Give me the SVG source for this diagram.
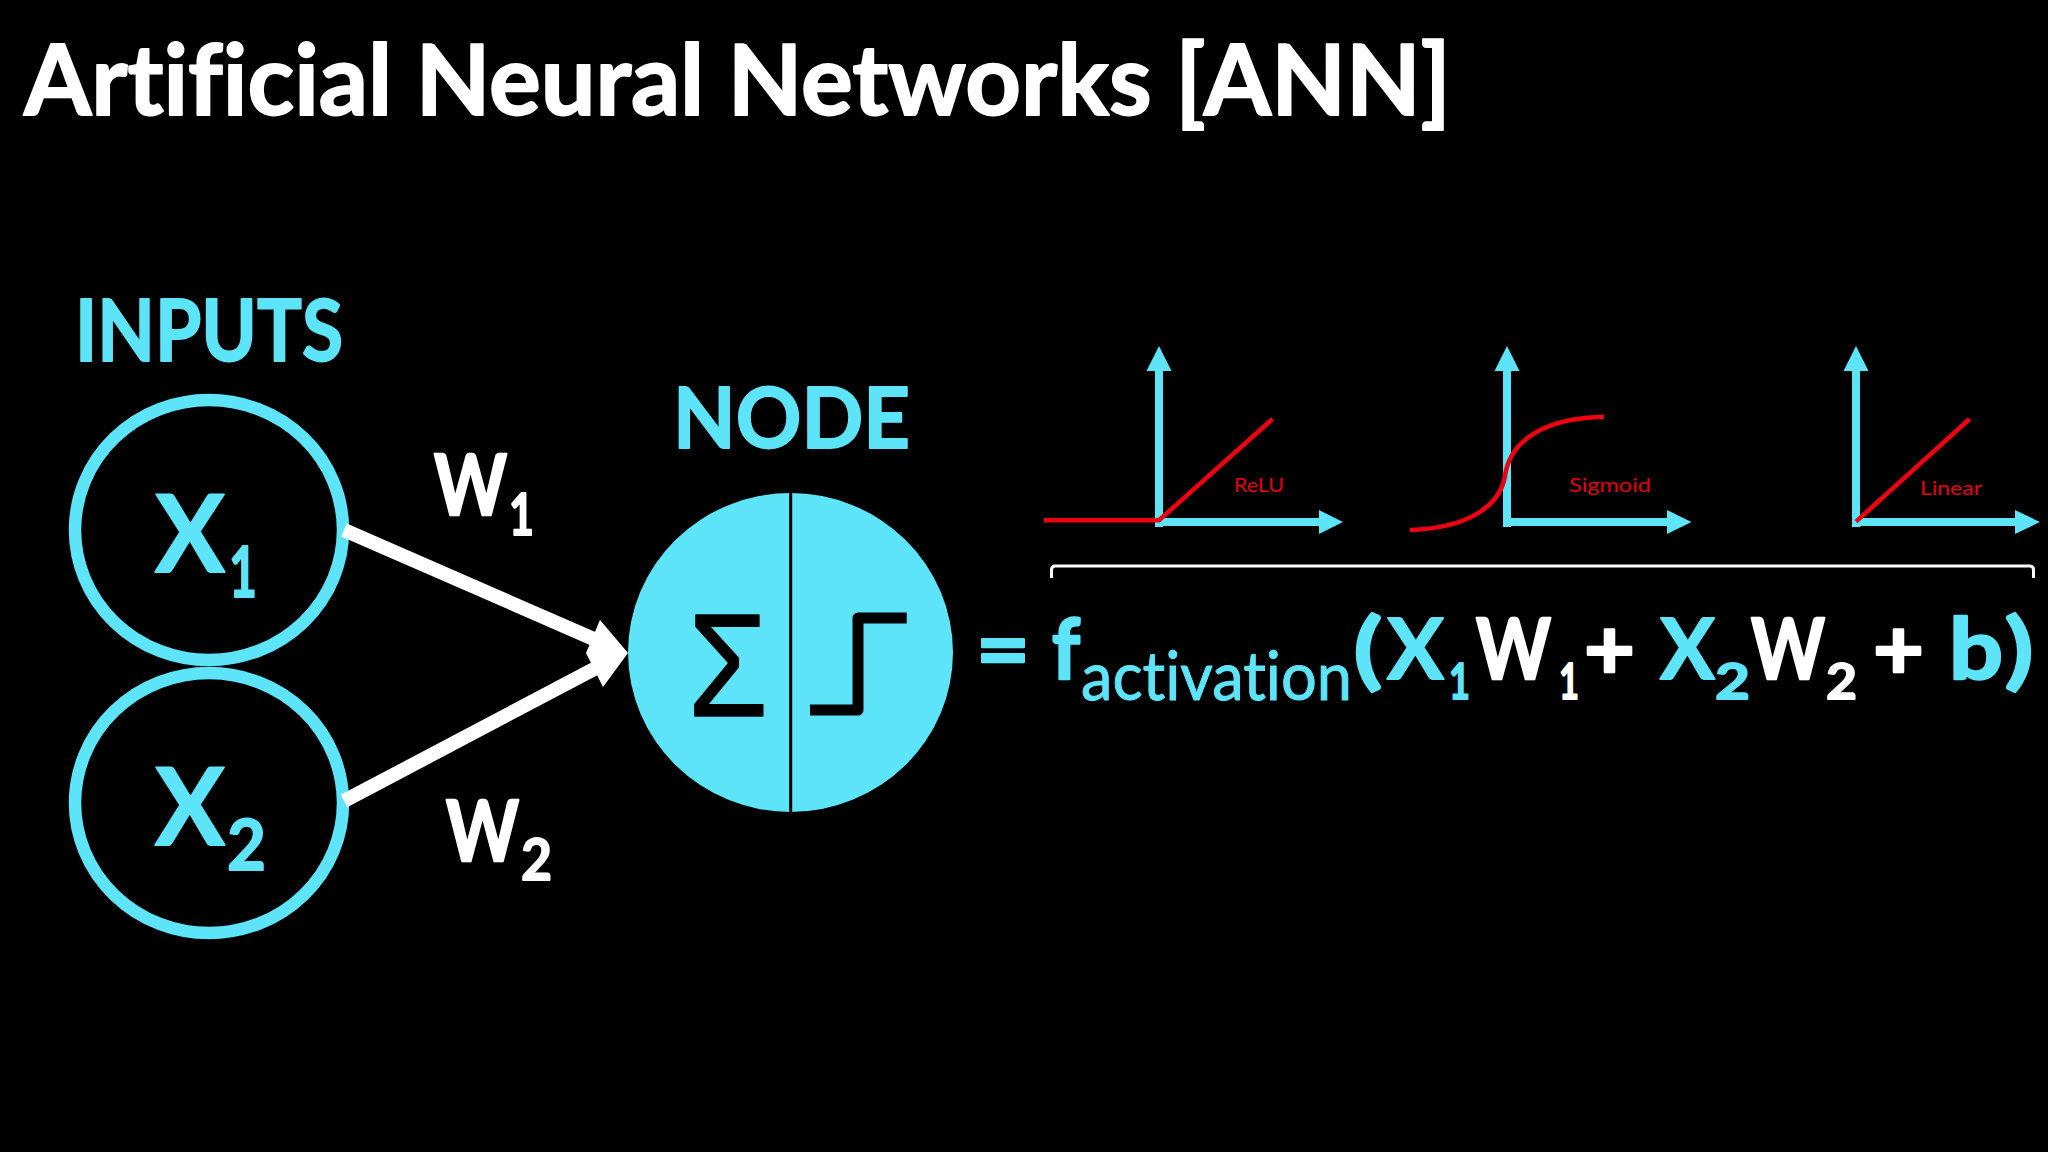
<svg xmlns="http://www.w3.org/2000/svg" width="2048" height="1152" viewBox="0 0 2048 1152">
<style>
text{font-family:"Lato","Liberation Sans",sans-serif;font-weight:700;font-variant-ligatures:none;stroke-linejoin:round}
.c{fill:#5de4f8;stroke:#5de4f8;stroke-width:1.8}.w{fill:#fff;stroke:#fff;stroke-width:1.8}.r{fill:#e3000f;font-weight:400;font-size:20px}
.ring{fill:none;stroke:#5de4f8;stroke-width:12.5}
.ax{stroke:#5de4f8;stroke-width:8;fill:none}
.hd{fill:#5de4f8}
.red{fill:none;stroke:#ee0010;stroke-width:4.500}
.con{stroke:#fff;stroke-width:14;fill:none}
</style>
<rect width="2048" height="1152" fill="#000"/>
<text id="title" class="w" x="24" y="115" font-size="97" textLength="1427" lengthAdjust="spacingAndGlyphs">Artificial Neural Networks [ANN]</text>
<g id="inputs-label"><text class="c" x="75" y="361" font-size="86" textLength="268" lengthAdjust="spacingAndGlyphs">INPUTS</text></g>
<g id="node-x1">
<ellipse class="ring" cx="209" cy="530" rx="134" ry="130"/>
<text class="c" x="155" y="571.500" font-size="108" textLength="70" lengthAdjust="spacingAndGlyphs">X</text>
<text class="c" x="229" y="597" font-size="71" textLength="28" lengthAdjust="spacingAndGlyphs">1</text>
</g>
<g id="node-x2">
<ellipse class="ring" cx="209" cy="803" rx="134" ry="130"/>
<text class="c" x="155" y="845" font-size="108" textLength="70" lengthAdjust="spacingAndGlyphs">X</text>
<text class="c" x="227" y="870" font-size="71" textLength="39" lengthAdjust="spacingAndGlyphs">2</text>
</g>
<g id="connectors">
<path class="con" d="M344 530L596 640"/>
<path class="con" d="M344 801L596 668"/>
<path fill="#fff" d="M628 653L600 620L586 653L603 687Z"/>
</g>
<g id="w1"><text class="w" x="434" y="515" font-size="85" textLength="73" lengthAdjust="spacingAndGlyphs" style="stroke-width:2.500">W</text><text class="w" x="509" y="535" font-size="58" textLength="25" lengthAdjust="spacingAndGlyphs">1</text></g>
<g id="w2"><text class="w" x="446" y="861" font-size="85" textLength="73" lengthAdjust="spacingAndGlyphs" style="stroke-width:2.500">W</text><text class="w" x="521" y="880" font-size="58" textLength="31" lengthAdjust="spacingAndGlyphs">2</text></g>
<g id="node-label"><text class="c" x="673" y="448" font-size="84" textLength="237" lengthAdjust="spacingAndGlyphs">NODE</text></g>
<g id="node-sum">
<ellipse cx="790.500" cy="652.500" rx="162.500" ry="159.500" fill="#5de4f8"/>
<rect x="789.200" y="493" width="3" height="319" fill="#000"/>
<text x="688" y="716" font-size="147" fill="#000" stroke="#000" stroke-width="1.500" textLength="80" lengthAdjust="spacingAndGlyphs" style="font-family:'Liberation Sans';font-weight:400">Σ</text>
<path d="M810 710H858V618H906.700" fill="none" stroke="#000" stroke-width="11" stroke-linejoin="round"/>
</g>
<g id="chart-relu">
<path class="ax" d="M1159 527V368M1155 522H1322"/>
<path class="hd" d="M1159 346L1171.500 371H1146.500ZM1343 522L1319 510V534Z"/>
<path class="red" d="M1044 520.300H1159L1272.500 419"/>
<text class="r" x="1234" y="492" textLength="50" lengthAdjust="spacingAndGlyphs">ReLU</text>
</g>
<g id="chart-sigmoid">
<path class="ax" d="M1507 527V368M1503 522H1670"/>
<path class="hd" d="M1507 346L1519.500 371H1494.500ZM1691.500 522L1667 510V534Z"/>
<path class="red" d="M1410 530C1470 528 1500 505 1505 476C1510 440 1545 418 1604 416.700"/>
<text class="r" x="1569" y="492" textLength="82" lengthAdjust="spacingAndGlyphs">Sigmoid</text>
</g>
<g id="chart-linear">
<path class="ax" d="M1856 527V368M1852 522H2018"/>
<path class="hd" d="M1856 346L1868.500 371H1843.500ZM2040 522L2015 510V534Z"/>
<path class="red" d="M1856 521.700L1969.500 419"/>
<text class="r" x="1920" y="495" textLength="62" lengthAdjust="spacingAndGlyphs">Linear</text>
</g>
<path id="bracket" d="M1051.500 578V570Q1051.500 566 1055 566H2030Q2033.500 566 2033.500 570V578" fill="none" stroke="#fff" stroke-width="3"/>
<g id="formula">
<text class="c" x="976" y="679" font-size="84" textLength="54" lengthAdjust="spacingAndGlyphs" style="stroke-width:2.500">=</text>
<text class="c" x="1052" y="679" font-size="84" textLength="28" lengthAdjust="spacingAndGlyphs" style="stroke-width:2.500">f</text>
<text class="c" x="1081" y="700" font-size="68" textLength="271" lengthAdjust="spacingAndGlyphs" style="font-weight:400;stroke-width:1">activation</text>
<text class="c" x="1353" y="679" font-size="84" textLength="30" lengthAdjust="spacingAndGlyphs">(</text>
<text class="c" x="1387" y="679" font-size="84" textLength="57" lengthAdjust="spacingAndGlyphs">X</text>
<text class="c" x="1449" y="699" font-size="50" textLength="21" lengthAdjust="spacingAndGlyphs">1</text>
<text class="w" x="1476" y="679" font-size="84" textLength="75" lengthAdjust="spacingAndGlyphs" style="stroke-width:2.500">W</text>
<text class="w" x="1559" y="699" font-size="50" textLength="20" lengthAdjust="spacingAndGlyphs">1</text>
<text class="w" x="1584" y="679" font-size="84" textLength="51" lengthAdjust="spacingAndGlyphs" style="stroke-width:2.500">+</text>
<text class="c" x="1660" y="679" font-size="84" textLength="55" lengthAdjust="spacingAndGlyphs">X</text>
<text class="c" x="1715" y="699" font-size="50" textLength="35" lengthAdjust="spacingAndGlyphs">2</text>
<text class="w" x="1751" y="679" font-size="84" textLength="74" lengthAdjust="spacingAndGlyphs" style="stroke-width:2.500">W</text>
<text class="w" x="1826" y="699" font-size="50" textLength="31" lengthAdjust="spacingAndGlyphs">2</text>
<text class="w" x="1873" y="679" font-size="84" textLength="51" lengthAdjust="spacingAndGlyphs" style="stroke-width:2.500">+</text>
<text class="c" x="1949" y="679" font-size="84" textLength="54" lengthAdjust="spacingAndGlyphs" style="stroke-width:2.500">b</text>
<text class="c" x="2004" y="679" font-size="84" textLength="30" lengthAdjust="spacingAndGlyphs">)</text>
</g>
</svg>
